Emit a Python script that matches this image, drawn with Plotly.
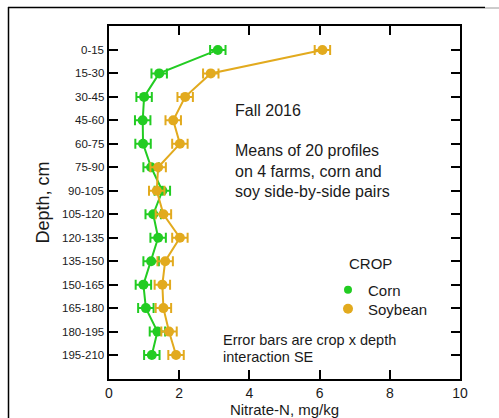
import plotly.graph_objects as go

depths = ["0-15", "15-30", "30-45", "45-60", "60-75", "75-90", "90-105", "105-120",
          "120-135", "135-150", "150-165", "165-180", "180-195", "195-210"]
corn = [3.1, 1.43, 1.0, 0.96, 0.97, 1.2, 1.52, 1.26, 1.4, 1.2, 0.98, 1.05, 1.38, 1.22]
soybean = [6.08, 2.9, 2.17, 1.83, 2.02, 1.4, 1.36, 1.55, 2.02, 1.6, 1.52, 1.55, 1.71, 1.91]
se = 0.22
x_ticks = [0, 2, 4, 6, 8, 10]

GREEN = "#22cc22"
GOLD = "#e2aa1e"
FONT = "Liberation Sans, Arial, sans-serif"
TXT = "#1a1a1a"

fig = go.Figure()
for name, vals, col in [("Corn", corn, GREEN), ("Soybean", soybean, GOLD)]:
    fig.add_trace(go.Scatter(
        x=vals, y=depths, mode="lines+markers", name=name, showlegend=False,
        line=dict(color=col, width=2),
        marker=dict(color=col, size=10),
        error_x=dict(type="constant", value=se, color=col, thickness=2, width=5),
    ))
# legend-only entries (dots), each in its own legend box for exact placement
for name, col, sz, lg in [("Corn", GREEN, 8, "legend"), ("Soybean", GOLD, 10, "legend2")]:
    fig.add_trace(go.Scatter(x=[None], y=[None], mode="markers", name=name,
                             marker=dict(color=col, size=sz), showlegend=True, legend=lg))

L, R, T, B = 109, 460, 26, 379
W, H = 499, 418
pw, ph = R - L, B - T


def px(x):
    return (x - L) / pw


def py(y):
    return (B - y) / ph


leg_common = dict(xanchor="left", yanchor="middle", bgcolor="rgba(0,0,0,0)",
                  font=dict(size=15, family=FONT, color=TXT), itemwidth=30)

fig.update_layout(
    width=W, height=H,
    margin=dict(l=L, r=W - R, t=T, b=H - B, autoexpand=False),
    paper_bgcolor="white", plot_bgcolor="white",
    font=dict(family=FONT, color=TXT),
    xaxis=dict(range=[0, 10], tickvals=x_ticks, ticks="inside", ticklen=9, tickwidth=2,
               tickcolor="black", showline=True, linewidth=2, linecolor="black",
               mirror="ticks", showgrid=False, zeroline=False, automargin=False,
               tickfont=dict(size=14, family=FONT, color=TXT),
               title=dict(text="Nitrate-N, mg/kg", font=dict(size=15, family=FONT, color=TXT),
                          standoff=6)),
    yaxis=dict(type="category", categoryorder="array", categoryarray=depths,
               range=[13 + 1.02, -1.02], ticks="inside", ticklen=9, tickwidth=2,
               tickcolor="black", showline=True, linewidth=2, linecolor="black",
               mirror="ticks", showgrid=False, zeroline=False, automargin=False,
               showticklabels=False,
               title=dict(text="Depth, cm", font=dict(size=18, family=FONT, color=TXT),
                          standoff=53)),
    legend=dict(x=px(328), y=py(290), **leg_common),
    legend2=dict(x=px(328), y=py(309), **leg_common),
    showlegend=True,
)

# y tick labels placed on the category scale, close to the axis like the reference
for d in depths:
    fig.add_annotation(text=d, x=px(106), y=d, xref="paper", yref="y",
                       xanchor="right", yanchor="middle", showarrow=False,
                       font=dict(size=11.5, family=FONT, color=TXT))

ann = [
    ("Fall 2016", 233, 110, 16),
    ("Means of 20 profiles", 233, 150, 16),
    ("on 4 farms, corn and", 233, 171, 16),
    ("soy side-by-side pairs", 233, 191, 16),
    ("CROP", 347, 263, 15),
    ("Error bars are crop x depth", 221, 340, 14.5),
    ("interaction SE", 221, 357, 14.5),
]
for text, x, y, s in ann:
    fig.add_annotation(text=text, x=px(x), y=py(y), xref="paper", yref="paper",
                       xanchor="left", yanchor="middle", showarrow=False,
                       font=dict(size=s, family=FONT, color=TXT))

# outer frame lines
fig.add_shape(type="line", xref="paper", yref="paper", x0=px(8), x1=px(485), y0=py(7.5), y1=py(7.5),
              line=dict(color="black", width=1.5))
fig.add_shape(type="line", xref="paper", yref="paper", x0=px(485), x1=px(499), y0=py(8), y1=py(8),
              line=dict(color="#999999", width=1))
fig.add_shape(type="line", xref="paper", yref="paper", x0=px(8.5), x1=px(8.5), y0=py(7), y1=py(418),
              line=dict(color="black", width=1.5))

fig.write_html("out.html")
